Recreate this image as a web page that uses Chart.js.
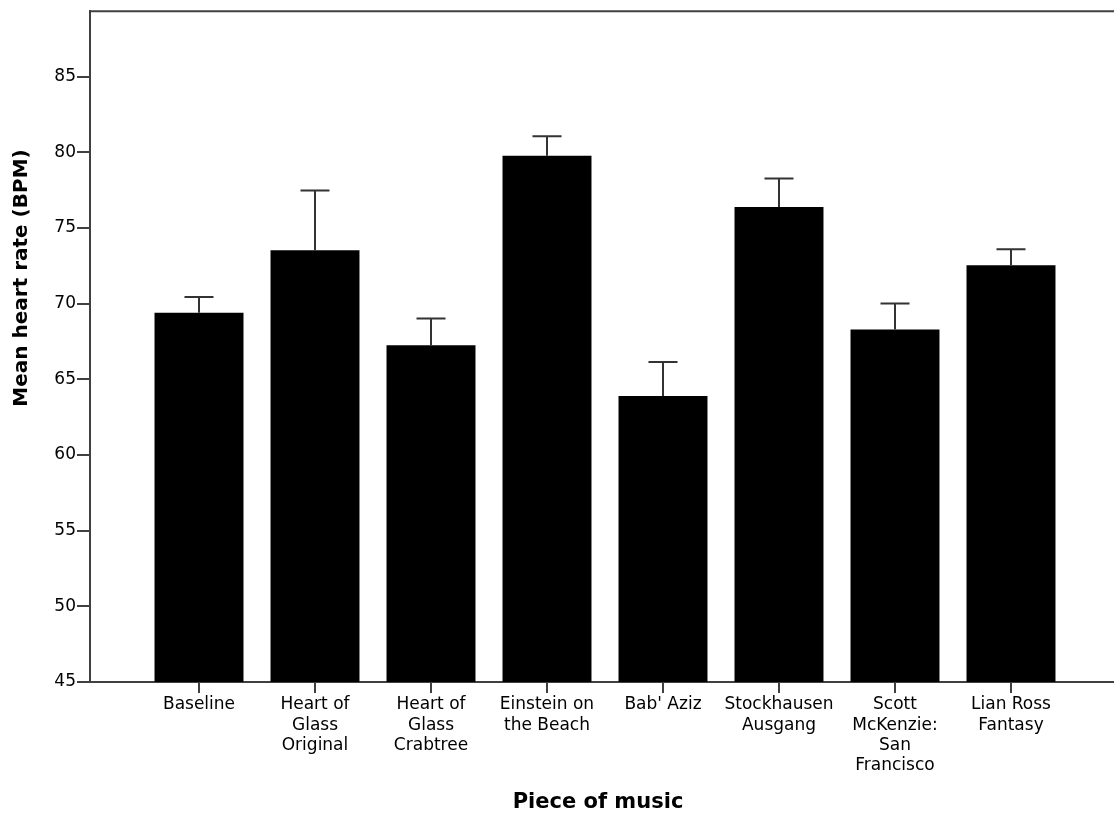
<!DOCTYPE html>
<html>
<head>
<meta charset="utf-8">
<script src="https://cdn.jsdelivr.net/npm/chart.js@4/dist/chart.umd.min.js"></script>
<style>
  html, body { margin: 0; padding: 0; background: #ffffff; overflow: hidden; }
  #wrap { width: 1114px; height: 817px; position: relative; }
</style>
</head>
<body>
<div id="wrap"><canvas id="c"></canvas></div>
<script>
// ---- Data ----
const categories = [
  ['Baseline'],
  ['Heart of', 'Glass', 'Original'],
  ['Heart of', 'Glass', 'Crabtree'],
  ['Einstein on', 'the Beach'],
  ["Bab' Aziz"],
  ['Stockhausen', 'Ausgang'],
  ['Scott', 'McKenzie:', 'San', 'Francisco'],
  ['Lian Ross', 'Fantasy']
];
const meanBPM = [69.41, 73.53, 67.25, 79.77, 63.90, 76.39, 68.29, 72.54];
const errorUpper = [70.45, 77.48, 69.02, 81.07, 66.15, 78.27, 70.01, 73.60];
const yTickValues = [45, 50, 55, 60, 65, 70, 75, 80, 85];
const yTitle = 'Mean heart rate (BPM)';
const xTitle = 'Piece of music';

const FONT = "'DejaVu Sans', sans-serif";
const AXIS_COLOR = '#404040';

const errorBarPlugin = {
  id: 'errorBars',
  afterDatasetsDraw(chart) {
    const ctx = chart.ctx;
    const xs = chart.scales.x, ys = chart.scales.y;
    ctx.save();
    ctx.strokeStyle = '#333333';
    ctx.lineWidth = 2;
    meanBPM.forEach((m, i) => {
      const x = Math.round(xs.getPixelForValue(i));
      const yTop = ys.getPixelForValue(errorUpper[i]);
      const yMean = ys.getPixelForValue(m);
      ctx.beginPath();
      ctx.moveTo(x, yMean);
      ctx.lineTo(x, yTop);
      ctx.moveTo(x - 14.5, yTop);
      ctx.lineTo(x + 14.5, yTop);
      ctx.stroke();
    });
    ctx.restore();
  }
};

const framePlugin = {
  id: 'frameTop',
  afterDraw(chart) {
    const ctx = chart.ctx;
    const a = chart.chartArea;
    ctx.save();
    ctx.strokeStyle = AXIS_COLOR;
    ctx.lineWidth = 2;
    ctx.beginPath();
    ctx.moveTo(a.left - 1, a.top);
    ctx.lineTo(a.right, a.top);
    ctx.stroke();
    // axis titles
    ctx.fillStyle = '#000000';
    ctx.textAlign = 'center';
    ctx.textBaseline = 'middle';
    ctx.font = "bold 21px " + FONT;
    ctx.fillText(xTitle, 598, 803);
    ctx.font = "bold 20px " + FONT;
    ctx.translate(22, 278);
    ctx.rotate(-Math.PI / 2);
    ctx.fillText(yTitle, 0, 0);
    ctx.restore();
  }
};

new Chart(document.getElementById('c'), {
  type: 'bar',
  data: {
    datasets: [{
      data: meanBPM.map((v, i) => ({ x: i, y: v })),
      backgroundColor: '#000000',
      borderWidth: 0,
      categoryPercentage: 1.0,
      barPercentage: 0.767
    }]
  },
  options: {
    responsive: true,
    maintainAspectRatio: false,
    animation: false,
    events: [],
    layout: { padding: { top: 11, left: 0, right: 0, bottom: 0 } },
    plugins: {
      legend: { display: false },
      tooltip: { enabled: false },
      title: { display: false }
    },
    scales: {
      x: {
        type: 'linear',
        offset: false,
        min: -0.9397,
        max: 7.888,
        afterBuildTicks: (scale) => { scale.ticks = categories.map((_, i) => ({ value: i })); },
        afterFit: (scale) => { scale.height = 135; },
        grid: {
          offset: false,
          drawOnChartArea: false,
          drawTicks: true,
          tickLength: 11,
          color: AXIS_COLOR,
          lineWidth: 2
        },
        border: { display: true, color: AXIS_COLOR, width: 2 },
        ticks: {
          autoSkip: false,
          maxRotation: 0,
          minRotation: 0,
          padding: 2,
          color: '#000000',
          font: { family: FONT, size: 17, lineHeight: 1.18 },
          callback: (value) => categories[value] || ''
        }
      },
      y: {
        min: 45,
        max: 89.33,
        afterBuildTicks: (scale) => { scale.ticks = yTickValues.map(v => ({ value: v })); },
        afterFit: (scale) => { scale.width = 90; },
        grid: {
          drawOnChartArea: false,
          drawTicks: true,
          tickLength: 13,
          color: AXIS_COLOR,
          lineWidth: 2
        },
        border: { display: true, color: AXIS_COLOR, width: 2 },
        ticks: {
          padding: 1,
          color: '#000000',
          font: { family: FONT, size: 17 }
        }
      }
    }
  },
  plugins: [errorBarPlugin, framePlugin]
});
</script>
</body>
</html>
